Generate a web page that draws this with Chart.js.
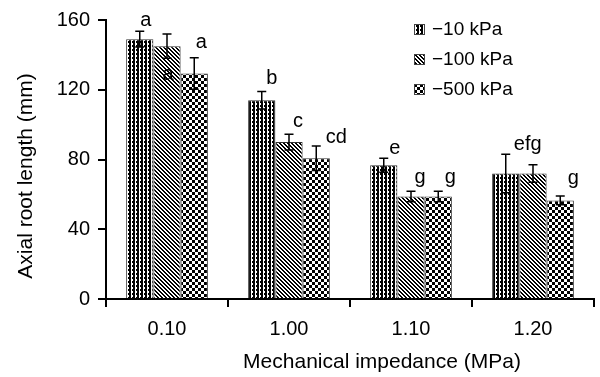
<!DOCTYPE html>
<html>
<head>
<meta charset="utf-8">
<script src="https://cdn.jsdelivr.net/npm/chart.js@4.4.1/dist/chart.umd.min.js"></script>
<style>
  html, body { margin: 0; padding: 0; background: #fff; }
  #wrap { width: 600px; height: 377px; }
</style>
</head>
<body>
<div id="wrap"><canvas id="myChart" width="600" height="377"></canvas></div>
<script>
// data
const categories = ['0.10', '1.00', '1.10', '1.20']
const seriesNames = ['\u221210 kPa', '\u2212100 kPa', '\u2212500 kPa']
const kpa10 = [149, 114, 76.7, 72]
const kpa100 = [145, 90, 58.8, 72]
const kpa500 = [129.3, 80.7, 58.8, 56.5]
const err10 = [4.5, 5, 4, 11]
const err100 = [7, 4.5, 3, 5]
const err500 = [9, 7, 3, 2.5]
const letters10 = ['a', 'b', 'e', 'efg']
const letters100 = ['a', 'c', 'g', '']
const letters500 = ['a', 'cd', 'g', 'g']
const yTicks = [0, 40, 80, 120, 160]

const FONT = '"Liberation Sans", Arial, sans-serif'
const ctx = document.getElementById('myChart').getContext('2d')

function makePattern(rows) {
  const c = document.createElement('canvas')
  c.width = rows[0].length
  c.height = rows.length
  const g = c.getContext('2d')
  g.fillStyle = '#fff'
  g.fillRect(0, 0, c.width, c.height)
  g.fillStyle = '#000'
  rows.forEach((r, y) => {
    for (let x = 0; x < r.length; x++) if (r[x] === 'x') g.fillRect(x, y, 1, 1)
  })
  return ctx.createPattern(c, 'repeat')
}

const pat10 = makePattern(['.xx.', 'xxx.', 'xxx.', '.xx.'])
const pat100 = makePattern(['xx..', '.xx.', '..xx', 'x..x'])
const pat500 = makePattern(['xxx...', 'xxx...', 'xxx...', '...xxx', '...xxx', '...xxx'])

const errs = [err10, err100, err500]
const letters = [letters10, letters100, letters500]
// letter placement relative to the bar centre / error bar end (dx, dy in px)
const letterOffsets = [
  [[6, -11], [10, -13], [11, -10], [22, -10]],
  [[1, 16, 'below'], [9, -13], [9, -14], [0, 0]],
  [[7, -15], [20, -9], [12, -14], [13, -18]]
]

const overlay = {
  id: 'overlay',
  afterDatasetsDraw(chart) {
    const c = chart.ctx
    const y = chart.scales.y
    c.save()
    c.strokeStyle = '#000'
    c.lineWidth = 1.5
    chart.data.datasets.forEach((ds, di) => {
      chart.getDatasetMeta(di).data.forEach((bar, i) => {
        const v = ds.data[i]
        const e = errs[di][i]
        const yt = y.getPixelForValue(v + e)
        const yb = y.getPixelForValue(v - e)
        c.beginPath()
        c.moveTo(bar.x, yt); c.lineTo(bar.x, yb)
        c.moveTo(bar.x - 4.5, yt); c.lineTo(bar.x + 4.5, yt)
        c.moveTo(bar.x - 4.5, yb); c.lineTo(bar.x + 4.5, yb)
        c.stroke()
        const txt = letters[di][i]
        if (!txt) return
        const off = letterOffsets[di][i]
        c.fillStyle = '#000'
        c.font = '20px ' + FONT
        c.textAlign = 'center'
        c.textBaseline = 'middle'
        const ly = off[2] === 'below' ? yb + off[1] : yt + off[1]
        c.fillText(txt, bar.x + off[0], ly)
      })
    })
    c.restore()
  },
  afterDraw(chart) {
    const c = chart.ctx
    c.save()
    c.fillStyle = '#000'
    // legend
    c.font = '19px ' + FONT
    c.textAlign = 'left'
    c.textBaseline = 'middle'
    chart.data.datasets.forEach((ds, di) => {
      const cy = 29 + di * 30
      c.fillStyle = ds.backgroundColor
      c.fillRect(414, cy - 5, 10, 10)
      c.strokeStyle = '#444'
      c.lineWidth = 1
      c.strokeRect(414.5, cy - 4.5, 10, 10)
      c.fillStyle = '#000'
      c.fillText(ds.label, 432, cy + 1)
    })
    // axis titles
    c.font = '21px ' + FONT
    c.textAlign = 'center'
    c.fillText('Mechanical impedance (MPa)', 382, 362)
    c.translate(26, 176)
    c.rotate(-Math.PI / 2)
    c.fillText('Axial root length (mm)', 0, 0)
    c.restore()
  }
}

const chart = new Chart(ctx, {
  type: 'bar',
  data: {
    labels: categories,
    datasets: [
      { label: seriesNames[0], data: kpa10, backgroundColor: pat10 },
      { label: seriesNames[1], data: kpa100, backgroundColor: pat100 },
      { label: seriesNames[2], data: kpa500, backgroundColor: pat500 }
    ].map(d => Object.assign(d, {
      borderColor: '#333',
      borderWidth: 1,
      categoryPercentage: 0.67,
      barPercentage: 1
    }))
  },
  options: {
    responsive: false,
    animation: false,
    devicePixelRatio: 1,
    layout: { padding: { left: 0, right: 6, top: 18, bottom: 0 } },
    plugins: { legend: { display: false }, tooltip: { enabled: false } },
    scales: {
      x: {
        grid: { offset: true, drawOnChartArea: false, drawTicks: true, tickLength: 8, color: '#000', lineWidth: 2 },
        border: { display: true, color: '#000', width: 2 },
        ticks: { color: '#000', padding: 10, font: { family: FONT, size: 20 } },
        afterFit(s) { s.height = 78 }
      },
      y: {
        min: 0,
        max: 160,
        afterBuildTicks(s) { s.ticks = yTicks.map(v => ({ value: v })) },
        grid: { drawOnChartArea: false, drawTicks: true, tickLength: 8, color: '#000', lineWidth: 2 },
        border: { display: true, color: '#000', width: 2 },
        ticks: { color: '#000', padding: 8, font: { family: FONT, size: 20 } },
        afterFit(s) { s.width = 106 }
      }
    }
  },
  plugins: [overlay]
})
</script>
</body>
</html>
